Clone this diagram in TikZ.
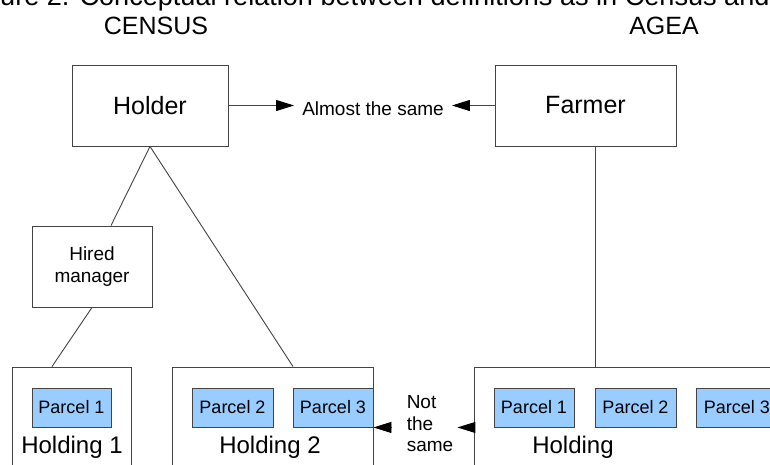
\documentclass[tikz,border=0pt]{standalone}
\usepackage{fontspec}
\setmainfont{Liberation Sans}
\usetikzlibrary{arrows.meta,calc}
\definecolor{parcelblue}{HTML}{99CCFF}
\definecolor{linegray}{HTML}{444444}
\begin{document}
\begin{tikzpicture}[x=1pt,y=-1pt,
 box/.style={draw=linegray,line width=0.9pt,rectangle,inner sep=0pt},
 parcel/.style={draw=linegray,fill=parcelblue,line width=0.9pt,minimum height=39pt,inner sep=0pt,font=\fontsize{18}{20}\selectfont},
 big/.style={font=\fontsize{25}{30}\selectfont},
 hold/.style={font=\fontsize{24}{28}\selectfont},
 mid/.style={font=\fontsize{19}{21.5}\selectfont},
 conn/.style={draw=linegray,line width=0.9pt},
 arr/.style={conn,-{Triangle[length=18pt,width=11pt,color=black]}}
]
\useasboundingbox (0,0) rectangle (770,464);
\clip (0,0) rectangle (770,464);
\fill[white] (0,0) rectangle (770,464);

% title (cut off at the top)
\node[anchor=base west,inner sep=0pt,font=\fontsize{27.1}{30}\selectfont] (title) at (-37.6,5) {Figure 2. Conceptual relation between definitions as in Census and AGEA};
\node[big] (census) at (156,26) {CENSUS};
\node[big] (agea) at (664,26) {AGEA};

% top boxes
\node[box,big,minimum width=156pt,minimum height=81pt] (holder) at (150,105.5) {Holder};
\node[box,big,minimum width=181pt,minimum height=81pt] (farmer) at (585.5,105.5) {Farmer};
\node[mid,inner xsep=8pt,inner ysep=2pt] (alm) at (373,109) {Almost the same};

% hired manager
\node[box,mid,align=center,minimum width=120pt,minimum height=81pt] (hm) at (92,266.5) {Hired\\manager};

% holdings
\node[box,minimum width=119pt,minimum height=153pt] (h1) at (71.5,443.5) {};
\node[box,minimum width=201pt,minimum height=153pt] (h2) at (272.5,443.5) {};
\node[box,minimum width=426pt,minimum height=153pt] (hA) at (687,443.5) {};

\node[parcel,minimum width=79pt] (p1) at (71.5,407.5) {Parcel 1};
\node[parcel,minimum width=81pt] (p2) at (232.5,407.5) {Parcel 2};
\node[parcel,minimum width=80pt] (p3) at (333,407.5) {Parcel 3};
\node[parcel,minimum width=80pt] (a1) at (534,407.5) {Parcel 1};
\node[parcel,minimum width=81pt] (a2) at (635.5,407.5) {Parcel 2};
\node[parcel,minimum width=81pt,anchor=west] (a3) at (696,407.5) {Parcel 3};

\node[hold] (h1l) at (72,447) {Holding 1};
\node[hold] (h2l) at (270,447) {Holding 2};
\node[hold] (hAl) at (573,447) {Holding};

\node[mid,align=left,inner xsep=2pt,inner ysep=1pt] (nts) at (430,424) {Not\\the\\same};

% connectors
\draw[arr] (holder.east) -- (alm.west |- holder.east);
\draw[arr] (farmer.west) -- (alm.east |- farmer.west);
\draw[conn] (holder.south) -- ([xshift=19pt]hm.north);
\draw[conn] (hm.south) -- ([xshift=-19.5pt]h1.north);
\draw[conn] (holder.south) -- ([xshift=20.5pt]h2.north);
\draw[conn] ([xshift=9.5pt]farmer.south) -- ([xshift=9.5pt]farmer.south |- hA.north);
\draw[arr] ([xshift=-14pt]nts.west |- p3.south) -- (p3.south east);
\draw[arr] (hA.west |- p3.south) -- ([xshift=2pt]nts.east |- p3.south);
\end{tikzpicture}
\end{document}
